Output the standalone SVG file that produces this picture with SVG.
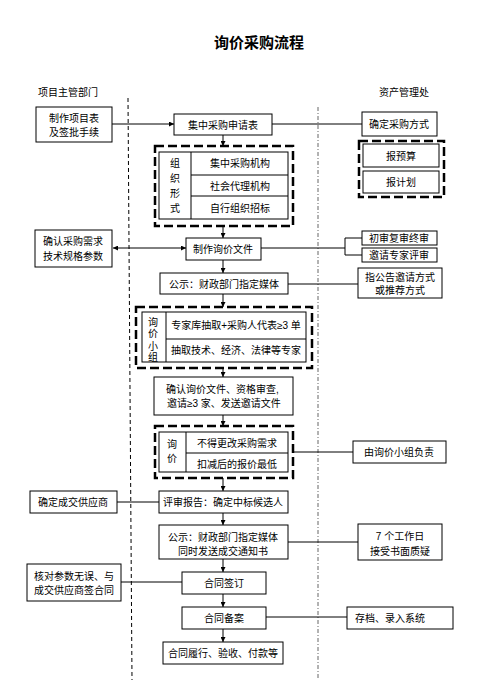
<svg xmlns="http://www.w3.org/2000/svg" width="498" height="680" viewBox="0 0 498 680">
<defs>
<marker id="ah" viewBox="0 0 10 10" refX="10" refY="5" markerWidth="5" markerHeight="5" orient="auto-start-reverse" markerUnits="userSpaceOnUse">
<path d="M0,0 L10,5 L0,10 z" fill="#000"/>
</marker>
<style>
text{font-family:"Liberation Sans","Noto Sans CJK SC",sans-serif;font-size:10px;fill:#000;text-anchor:middle;dominant-baseline:central}
.t{font-size:15px;font-weight:bold}
.l{text-anchor:start}
.box{fill:#fff;stroke:#000;stroke-width:1}
.grp{fill:none;stroke:#000;stroke-width:2.5;stroke-dasharray:9 4}
.ln{fill:none;stroke:#000;stroke-width:1}
.ar{fill:none;stroke:#000;stroke-width:1;marker-end:url(#ah)}
.lane{fill:none;stroke:#000;stroke-width:1;stroke-dasharray:4 3}
.lane2{fill:none;stroke:#666;stroke-width:1;stroke-dasharray:4 2 1 2}
</style>
</defs>
<rect width="498" height="680" fill="#fff"/>
<text class="t" x="259" y="42">询价采购流程</text>
<text x="68" y="92">项目主管部门</text>
<text x="404" y="92">资产管理处</text>
<line class="lane" x1="128" y1="98" x2="132" y2="680"/>
<line class="lane2" x1="318" y1="107" x2="318" y2="680"/>

<g id="connectors">
<line class="ar" x1="112" y1="124" x2="174" y2="124"/>
<line class="ln" x1="272" y1="124" x2="362" y2="124"/>
<line class="ar" x1="223" y1="135" x2="223" y2="146"/>
<line class="ar" x1="223" y1="226" x2="223" y2="238"/>
<line class="ar" x1="113" y1="248" x2="186" y2="248" marker-start="url(#ah)"/>
<line class="ln" x1="261" y1="248" x2="345" y2="248" stroke="#777" stroke-width="1.5"/>
<polyline class="ln" points="362,238 345,238 345,255 362,255"/>
<line class="ar" x1="223" y1="260" x2="223" y2="273"/>
<line class="ln" x1="288" y1="284" x2="358" y2="284"/>
<line class="ar" x1="223" y1="294" x2="223" y2="307"/>
<line class="ar" x1="223" y1="368" x2="223" y2="377"/>
<line class="ar" x1="223" y1="415" x2="223" y2="426"/>
<line class="ln" x1="293" y1="452" x2="353" y2="452"/>
<line class="ar" x1="223" y1="478" x2="223" y2="491"/>
<line class="ln" x1="117" y1="502" x2="159" y2="502"/>
<line class="ar" x1="223" y1="513" x2="223" y2="525"/>
<line class="ln" x1="288" y1="542" x2="358" y2="542"/>
<line class="ar" x1="223" y1="559" x2="223" y2="572"/>
<line class="ln" x1="121" y1="582" x2="182" y2="582"/>
<line class="ar" x1="223" y1="594" x2="223" y2="607"/>
<line class="ln" x1="266" y1="617" x2="347" y2="617"/>
<line class="ar" x1="223" y1="629" x2="223" y2="642"/>
</g>

<g id="n-xmb">
<rect class="box" x="36" y="107" width="76" height="35"/>
<text x="74" y="118">制作项目表</text>
<text x="74" y="132">及签批手续</text>
</g>
<g id="n-sqb">
<rect class="box" x="174" y="114" width="98" height="21"/>
<text x="223" y="125">集中采购申请表</text>
</g>
<g id="n-qdfs">
<rect class="box" x="362" y="112" width="75" height="24"/>
<text x="399" y="124">确定采购方式</text>
</g>
<g id="n-zzxs">
<rect class="grp" x="155" y="146" width="138" height="80"/>
<rect class="box" x="159" y="152" width="129" height="67"/>
<line class="ln" x1="191" y1="152" x2="191" y2="219"/>
<line class="ln" x1="191" y1="175" x2="288" y2="175"/>
<line class="ln" x1="191" y1="196" x2="288" y2="196"/>
<text x="175" y="163">组</text>
<text x="175" y="178">织</text>
<text x="175" y="193">形</text>
<text x="175" y="208">式</text>
<text x="240" y="163">集中采购机构</text>
<text x="240" y="186">社会代理机构</text>
<text x="240" y="208">自行组织招标</text>
</g>
<g id="n-bys">
<rect class="grp" x="359" y="141" width="85" height="56"/>
<rect class="box" x="363" y="144" width="76" height="23"/>
<text x="401" y="156">报预算</text>
<rect class="box" x="363" y="171" width="76" height="22"/>
<text x="401" y="182">报计划</text>
</g>
<g id="n-zzxjwj">
<rect class="box" x="186" y="238" width="75" height="22"/>
<text x="223" y="249">制作询价文件</text>
</g>
<g id="n-qrxq">
<rect class="box" x="35" y="230" width="77" height="37"/>
<text x="73" y="241">确认采购需求</text>
<text x="73" y="256">技术规格参数</text>
</g>
<g id="n-cs">
<rect class="box" x="362" y="231" width="75" height="14"/>
<text x="399" y="238">初审复审终审</text>
</g>
<g id="n-yq">
<rect class="box" x="362" y="248" width="75" height="14"/>
<text x="399" y="255">邀请专家评审</text>
</g>
<g id="n-gs1">
<rect class="box" x="160" y="273" width="128" height="21"/>
<text x="224" y="284">公示：财政部门指定媒体</text>
</g>
<g id="n-zgg">
<rect class="box" x="358" y="268" width="84" height="30"/>
<text x="400" y="277">指公告邀请方式</text>
<text x="400" y="290">或推荐方式</text>
</g>
<g id="n-xjxz">
<rect class="grp" x="136" y="307" width="176" height="61"/>
<rect class="box" x="142" y="312" width="164" height="50"/>
<line class="ln" x1="166" y1="312" x2="166" y2="362"/>
<line class="ln" x1="166" y1="339" x2="306" y2="339"/>
<text x="153" y="322">询</text>
<text x="153" y="333">价</text>
<text x="153" y="346">小</text>
<text x="153" y="357">组</text>
<text x="236" y="325">专家库抽取+采购人代表≥3 单</text>
<text x="236" y="350">抽取技术、经济、法律等专家</text>
</g>
<g id="n-qrxjwj">
<rect class="box" x="154" y="377" width="139" height="38"/>
<text class="l" x="166" y="389">确认询价文件、资格审查,</text>
<text class="l" x="167" y="403">邀请≥3 家、发送邀请文件</text>
</g>
<g id="n-xj">
<rect class="grp" x="155" y="426" width="138" height="52"/>
<rect class="box" x="159" y="432" width="129" height="40"/>
<line class="ln" x1="186" y1="432" x2="186" y2="472"/>
<line class="ln" x1="186" y1="453" x2="288" y2="453"/>
<text x="172" y="444">询</text>
<text x="172" y="458">价</text>
<text x="237" y="443">不得更改采购需求</text>
<text x="237" y="464">扣减后的报价最低</text>
</g>
<g id="n-fz">
<rect class="box" x="353" y="441" width="93" height="22"/>
<text x="399" y="452">由询价小组负责</text>
</g>
<g id="n-psbg">
<rect class="box" x="159" y="491" width="129" height="22"/>
<text x="223" y="502">评审报告：确定中标候选人</text>
</g>
<g id="n-qdgys">
<rect class="box" x="30" y="491" width="87" height="22"/>
<text x="73" y="502">确定成交供应商</text>
</g>
<g id="n-gs2">
<rect class="box" x="159" y="525" width="129" height="34"/>
<text x="223" y="537">公示：财政部门指定媒体</text>
<text x="223" y="551">同时发送成交通知书</text>
</g>
<g id="n-7r">
<rect class="box" x="358" y="524" width="84" height="36"/>
<text x="400" y="536">7 个工作日</text>
<text x="400" y="551">接受书面质疑</text>
</g>
<g id="n-htqd">
<rect class="box" x="182" y="572" width="84" height="22"/>
<text x="224" y="583">合同签订</text>
</g>
<g id="n-hd">
<rect class="box" x="27" y="564" width="94" height="37"/>
<text x="74" y="576">核对参数无误、与</text>
<text x="74" y="590">成交供应商签合同</text>
</g>
<g id="n-htba">
<rect class="box" x="182" y="607" width="84" height="22"/>
<text x="224" y="618">合同备案</text>
</g>
<g id="n-cd">
<rect class="box" x="347" y="607" width="106" height="22"/>
<text class="l" x="355" y="618">存档、录入系统</text>
</g>
<g id="n-lx">
<rect class="box" x="163" y="642" width="120" height="22"/>
<text x="223" y="653">合同履行、验收、付款等</text>
</g>
</svg>
